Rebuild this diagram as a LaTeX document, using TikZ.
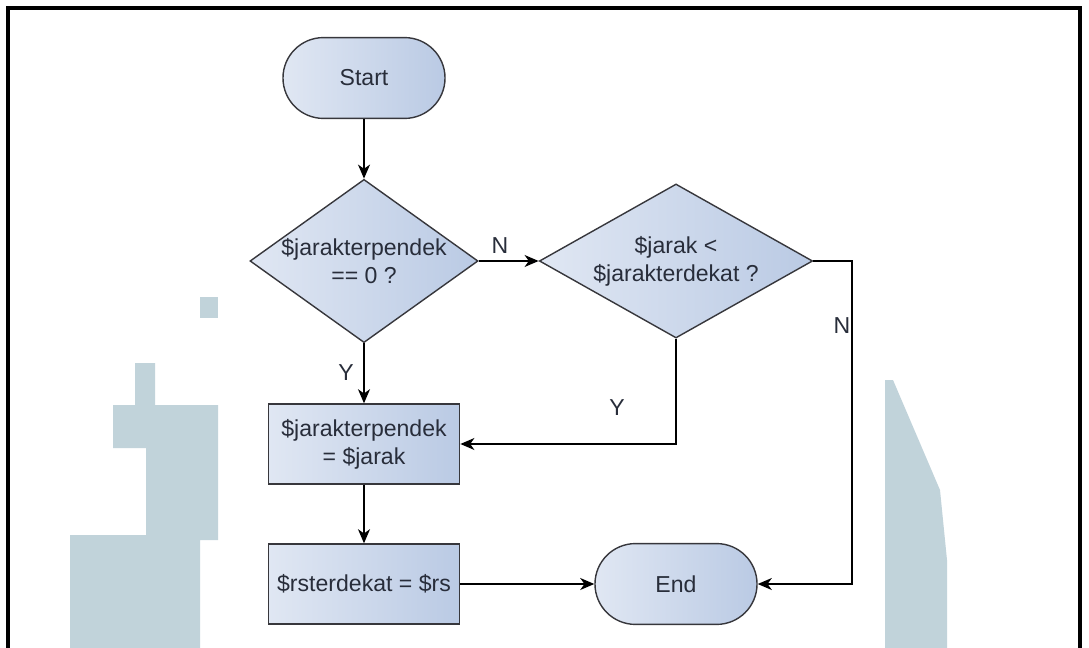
\documentclass[tikz,border=0pt]{standalone}
\usepackage{fontspec}
\setmainfont{Liberation Sans}
\usetikzlibrary{shapes.geometric,shapes.misc,arrows.meta,calc}
\definecolor{wm}{RGB}{193,211,218}
\definecolor{fillA}{RGB}{224,231,243}
\definecolor{fillB}{RGB}{186,202,228}
\definecolor{edgec}{RGB}{55,55,60}
\definecolor{txt}{RGB}{40,45,58}
\tikzset{
  shapebase/.style={draw=edgec, line width=1pt, left color=fillA, right color=fillB,
    text=txt, font=\fontsize{16.4}{20}\selectfont, align=center},
  term/.style={shapebase, rounded rectangle, minimum width=4.05cm, minimum height=2.02cm, inner sep=0pt},
  dec/.style={shapebase, diamond, inner sep=-6pt},
  proc/.style={shapebase, rectangle, minimum width=4.78cm, minimum height=2.0cm, inner sep=0pt},
  conn/.style={draw=black, line width=1.2pt, -{Stealth[length=10pt,width=8.5pt,inset=3pt]}},
  lbl/.style={text=txt, font=\fontsize{16.4}{20}\selectfont, inner sep=0pt}
}
\begin{document}
\begin{tikzpicture}[x=0.025cm,y=-0.025cm]
\useasboundingbox (0,0) rectangle (1089,648);
% watermark
\fill[wm] (200,297) rectangle (218,318);
\fill[wm] (135,363) -- (155,363) -- (155,405) -- (218,405) -- (218,540) -- (200,540) -- (200,648)
  -- (70,648) -- (70,535) -- (146,535) -- (146,448) -- (113,448) -- (113,405) -- (135,405) -- cycle;
\fill[wm] (885,380) -- (893,380) -- (940,490) -- (947,560) -- (947,648) -- (885,648) -- cycle;
% frame
\draw[line width=2.2pt] (8,660) -- (8,8) -- (1080,8) -- (1080,660);
% nodes
\node[term] (start) at (364,78) {Start};
\node[dec, aspect=1.4, minimum width=5.7cm, minimum height=4.08cm] (d1) at (364,261) {\$jarakterpendek\\== 0 ?};
\node[dec, aspect=1.77, minimum width=6.83cm, minimum height=3.85cm] (d2) at (676,261) {\$jarak <\\\$jarakterdekat ?};
\node[proc] (b1) at (364,444) {\$jarakterpendek\\= \$jarak};
\node[proc] (b2) at (364,584) {\$rsterdekat = \$rs};
\node[term] (end) at (676,584) {End};
\coordinate (c1) at (852,261);
% connectors
\draw[conn] (start) -- (d1);
\draw[conn] (d1) -- (b1);
\draw[conn] (b1) -- (b2);
\draw[conn] (b2) -- (end);
\draw[conn] (d1.east) -- (d2.west);
\draw[conn] (d2.east) -- (c1) |- (end.east);
\draw[conn] (d2.south) |- (b1.east);
% labels
\node[lbl] (lN1) at (500,246) {N};
\node[lbl] (lY1) at (346,373) {Y};
\node[lbl] (lY2) at (617,408) {Y};
\node[lbl] (lN2) at (842,326) {N};
\end{tikzpicture}
\end{document}
